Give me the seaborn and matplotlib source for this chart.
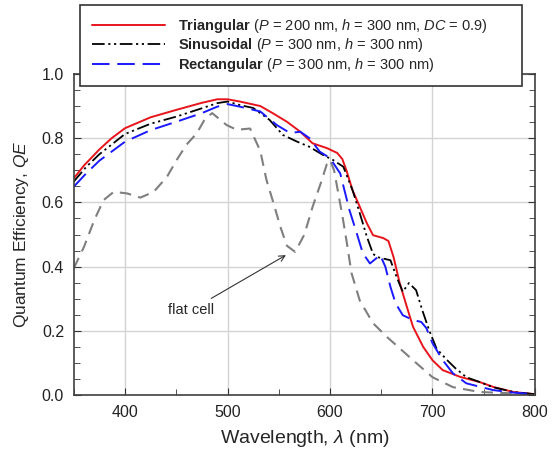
import pandas as pd
import matplotlib
matplotlib.use('Agg')
import matplotlib.pyplot as plt
from matplotlib.ticker import MultipleLocator
import seaborn as sns

# wavelength (nm) / quantum efficiency
wl_tri = [350, 360, 375, 387, 400, 425, 450, 475, 490, 500, 512, 532, 544, 558, 571, 583, 597,
          607, 612, 616, 622, 629, 636, 642, 652, 657, 662, 668, 675, 681, 691, 700, 710, 727,
          746, 760, 779, 800]
qe_tri = [0.675, 0.715, 0.765, 0.800, 0.831, 0.865, 0.888, 0.910, 0.921, 0.921, 0.914, 0.900,
          0.878, 0.851, 0.820, 0.784, 0.769, 0.754, 0.735, 0.700, 0.638, 0.587, 0.535, 0.498,
          0.489, 0.480, 0.430, 0.349, 0.275, 0.213, 0.150, 0.109, 0.078, 0.057, 0.041, 0.025,
          0.010, 0.003]

wl_sin = [350, 362, 375, 400, 425, 450, 475, 490, 500, 512, 525, 541, 554, 568, 580, 593, 603,
          613, 622, 629, 636, 642, 646, 659, 665, 671, 677, 684, 690, 697, 704, 714, 722, 733,
          746, 759, 779, 800]
qe_sin = [0.665, 0.710, 0.750, 0.813, 0.845, 0.867, 0.893, 0.909, 0.914, 0.903, 0.894, 0.857,
          0.810, 0.789, 0.773, 0.748, 0.732, 0.711, 0.638, 0.567, 0.493, 0.440, 0.430, 0.420,
          0.368, 0.322, 0.349, 0.327, 0.265, 0.200, 0.145, 0.110, 0.085, 0.056, 0.041, 0.025,
          0.010, 0.003]

wl_rect = [350, 362, 375, 400, 425, 450, 475, 490, 500, 512, 532, 548, 561, 571, 580, 590, 600,
           610, 619, 626, 632, 639, 649, 654, 659, 664, 671, 681, 689, 694, 700, 710, 720, 733,
           759, 779, 800]
qe_rect = [0.649, 0.690, 0.730, 0.789, 0.825, 0.851, 0.878, 0.898, 0.906, 0.898, 0.883, 0.841,
           0.816, 0.820, 0.800, 0.758, 0.738, 0.690, 0.576, 0.505, 0.442, 0.410, 0.436, 0.400,
           0.337, 0.286, 0.249, 0.234, 0.228, 0.209, 0.162, 0.109, 0.068, 0.037, 0.016, 0.008,
           0.003]

wl_flat = [350, 360, 370, 379, 389, 402, 415, 428, 441, 450, 460, 470, 478, 485, 499, 509, 522,
           532, 538, 544, 552, 558, 566, 575, 583, 591, 597, 600, 604, 608, 612, 616, 621, 629,
           642, 656, 668, 681, 700, 720, 746, 800]
qe_flat = [0.395, 0.462, 0.545, 0.607, 0.633, 0.628, 0.615, 0.633, 0.680, 0.730, 0.780, 0.815,
           0.860, 0.878, 0.841, 0.826, 0.830, 0.760, 0.670, 0.607, 0.520, 0.465, 0.446, 0.500,
           0.586, 0.660, 0.720, 0.732, 0.700, 0.630, 0.560, 0.483, 0.380, 0.295, 0.224, 0.180,
           0.146, 0.109, 0.056, 0.025, 0.010, 0.003]

labels = [r'$\mathbf{Triangular}$ ($\mathit{P}$ = 200 nm, $\mathit{h}$ = 300 nm, $\mathit{DC}$ = 0.9)',
          r'$\mathbf{Sinusoidal}$ ($\mathit{P}$ = 300 nm, $\mathit{h}$ = 300 nm)',
          r'$\mathbf{Rectangular}$ ($\mathit{P}$ = 300 nm, $\mathit{h}$ = 300 nm)']

sns.set_style('white')
plt.rcParams['font.family'] = ['Liberation Sans', 'DejaVu Sans']
plt.rcParams['mathtext.fontset'] = 'custom'
plt.rcParams['mathtext.rm'] = 'Liberation Sans'
plt.rcParams['mathtext.it'] = 'Liberation Sans:italic'
plt.rcParams['mathtext.bf'] = 'Liberation Sans:bold'

fig = plt.figure(figsize=(5.59, 4.59), dpi=100)
ax = fig.add_axes([0.132, 0.139, 0.825, 0.700])

# flat cell first so it sits behind
sns.lineplot(x=wl_flat, y=qe_flat, ax=ax, color='#7f7f7f', lw=1.5, linestyle=(0, (5.5, 3.5)))
sns.lineplot(x=wl_tri, y=qe_tri, ax=ax, color='#e8141c', lw=1.4, label=labels[0])
sns.lineplot(x=wl_sin, y=qe_sin, ax=ax, color='black', lw=1.3,
             linestyle=(0, (7, 2, 1.2, 2, 1.2, 2)), label=labels[1])
sns.lineplot(x=wl_rect, y=qe_rect, ax=ax, color='#1a1aff', lw=1.4,
             linestyle=(0, (9, 4)), label=labels[2])

ax.set_xlim(350, 800)
ax.set_ylim(0, 1.0)
ax.xaxis.set_major_locator(MultipleLocator(100))
ax.xaxis.set_minor_locator(MultipleLocator(50))
ax.yaxis.set_major_locator(MultipleLocator(0.2))
ax.yaxis.set_minor_locator(MultipleLocator(0.05))
ax.yaxis.set_major_formatter(matplotlib.ticker.FormatStrFormatter('%.1f'))
ax.grid(True, which='major', color='#d3d3d3', lw=1)
ax.set_axisbelow(True)
ax.tick_params(which='both', direction='in', left=True, right=True, bottom=True, top=False,
               labelsize=11.5, colors='#333333', labelcolor='#222222')
ax.tick_params(which='major', length=5, pad=7)
ax.tick_params(which='minor', length=4)
for s in ax.spines.values():
    s.set_color('#404040')
    s.set_linewidth(1.2)

ax.set_xlabel(r'Wavelength, $\mathit{\lambda}$ (nm)', fontsize=14, labelpad=6)
ax.set_ylabel(r'Quantum Efficiency, $\mathit{QE}$', fontsize=12.5, labelpad=8)

ax.annotate('flat cell', xy=(557, 0.436), xytext=(487, 0.265), fontsize=10.5,
            ha='right', va='center',
            arrowprops=dict(arrowstyle='->', color='#333333', lw=0.8, shrinkA=2, shrinkB=0))

leg = ax.legend(loc='upper left',
                bbox_to_anchor=(80 / 559, 1 - 5 / 459 - 0.001, 442 / 559, 0.001),
                bbox_transform=fig.transFigure, mode='expand', borderaxespad=0,
                fontsize=10.5, handlelength=5.0,
                frameon=True, fancybox=False, framealpha=1, edgecolor='#333333',
                borderpad=0.8, labelspacing=0.12, handletextpad=0.9)
leg.get_frame().set_linewidth(1.2)

fig.savefig('out.png', dpi=100)
